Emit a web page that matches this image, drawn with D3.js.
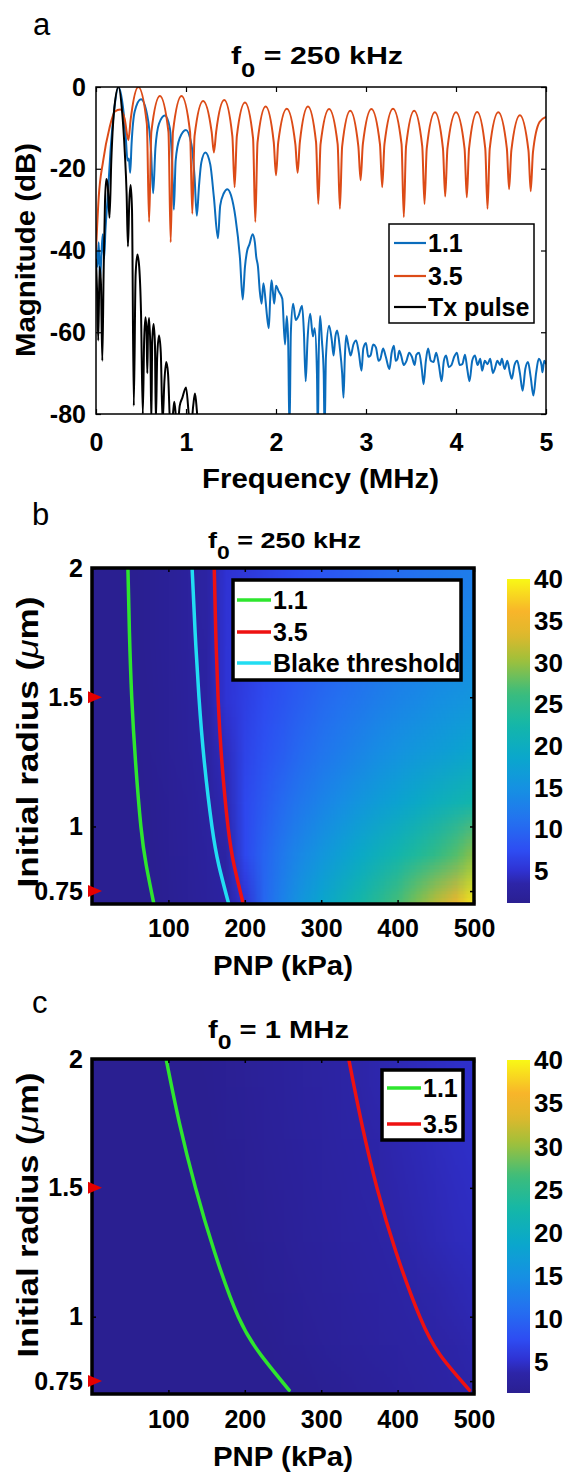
<!DOCTYPE html>
<html><head><meta charset="utf-8">
<script src="https://cdn.jsdelivr.net/npm/d3@7"></script>
<style>body{margin:0;background:#fff}svg{display:block}</style>
</head><body>
<svg id="fig" width="566" height="1473"></svg>
<script>
// ---------------- DATA ----------------
// Panel a: spectra [frequency MHz, magnitude dB]
const freqTicks = [0, 1, 2, 3, 4, 5];
const magTicks = [0, -20, -40, -60, -80];
const spec11 = [[0,-40],[0.015,-44],[0.03,-38],[0.045,-47],[0.06,-41],[0.075,-36],[0.09,-42],[0.105,-35],[0.13,-27],[0.16,-16],[0.2,-6],[0.25,0],[0.3,-5],[0.33,-12],[0.35,-18],[0.365,-17.5],[0.38,-21],[0.395,-14],[0.43,-6],[0.5,-3],[0.57,-7],[0.61,-15],[0.635,-26],[0.66,-15],[0.7,-9],[0.765,-7],[0.82,-10],[0.845,-18],[0.865,-30],[0.885,-18],[0.93,-12.5],[1.0,-10.5],[1.06,-14],[1.095,-22],[1.12,-31.5],[1.145,-24],[1.17,-18.5],[1.215,-16],[1.27,-19],[1.31,-27],[1.355,-37],[1.38,-29],[1.42,-26],[1.46,-25],[1.5,-26.5],[1.55,-32],[1.6,-42],[1.63,-52],[1.655,-44],[1.68,-40],[1.705,-38.5],[1.74,-36],[1.765,-38],[1.78,-41.5],[1.8,-44],[1.82,-50],[1.84,-53],[1.86,-48],[1.885,-52.5],[1.9,-56],[1.92,-59],[1.935,-52],[1.95,-47.3],[1.965,-50],[1.98,-53],[2.0,-48.6],[2.03,-50],[2.07,-51.8],[2.1,-63],[2.12,-56],[2.135,-62],[2.15,-85],[2.165,-60],[2.19,-53],[2.22,-57],[2.25,-56],[2.29,-53.5],[2.31,-60],[2.33,-72],[2.35,-62],[2.38,-55.5],[2.41,-61],[2.43,-59],[2.455,-70],[2.465,-85],[2.475,-65],[2.49,-56],[2.51,-62],[2.53,-70],[2.54,-85],[2.555,-66],[2.59,-58.4],[2.62,-62],[2.64,-65.7],[2.66,-61],[2.68,-59.6],[2.71,-64],[2.735,-70],[2.75,-76],[2.765,-66],[2.78,-60.8],[2.81,-64],[2.83,-65.7],[2.86,-63],[2.89,-62],[2.92,-65],[2.95,-69.4],[2.97,-64],[3.0,-62.6],[3.025,-66],[3.05,-65.7],[3.08,-63],[3.11,-63.7],[3.14,-67],[3.16,-66.5],[3.19,-64],[3.22,-66],[3.26,-69],[3.285,-65],[3.31,-63.3],[3.33,-67],[3.35,-66.5],[3.37,-64.5],[3.39,-65.7],[3.42,-68],[3.45,-67],[3.48,-65],[3.51,-66],[3.54,-68],[3.56,-65.5],[3.59,-65],[3.62,-69],[3.64,-72.7],[3.665,-67],[3.69,-64],[3.72,-67],[3.75,-67.3],[3.78,-65],[3.81,-68],[3.84,-72],[3.865,-67],[3.89,-65.7],[3.92,-68.5],[3.95,-68],[3.98,-66],[4.01,-65],[4.04,-68],[4.07,-67.8],[4.1,-65.5],[4.125,-69],[4.15,-72],[4.18,-67],[4.21,-65.7],[4.24,-68],[4.27,-66.5],[4.29,-69.4],[4.32,-67],[4.35,-67.8],[4.38,-66.5],[4.41,-70],[4.43,-69],[4.46,-67],[4.49,-68],[4.51,-66.5],[4.54,-69],[4.57,-67],[4.6,-70],[4.62,-71.4],[4.65,-68],[4.68,-67],[4.71,-70],[4.74,-74.3],[4.77,-69],[4.8,-67.3],[4.83,-71],[4.86,-75.5],[4.89,-70],[4.92,-66.5],[4.95,-68],[4.96,-69.8],[4.98,-67],[5.0,-67.8]];
const spec35 = [[0,-40],[0.03,-27],[0.08,-18],[0.15,-10],[0.21,-6],[0.27,-5.5],[0.32,-8],[0.36,-13],[0.385,-8],[0.47,0],[0.565,-9],[0.59,-33],[0.615,-11],[0.71,-2.2],[0.805,-11],[0.83,-38],[0.855,-11],[0.95,-2.2],[1.045,-11],[1.07,-31],[1.095,-12],[1.19,-3.4],[1.285,-11],[1.31,-16],[1.335,-11],[1.425,-3.2],[1.515,-12],[1.54,-24.5],[1.565,-12],[1.655,-3.8],[1.745,-12.5],[1.77,-33],[1.795,-13.5],[1.885,-4.8],[1.975,-13.5],[2.0,-21.6],[2.025,-13.5],[2.12,-5.3],[2.215,-14],[2.24,-21],[2.265,-13.5],[2.355,-4.8],[2.445,-13.5],[2.47,-28.6],[2.495,-14],[2.59,-5.4],[2.685,-14],[2.71,-29.8],[2.735,-14.5],[2.825,-5.8],[2.915,-14.5],[2.94,-22.8],[2.965,-14],[3.06,-5.4],[3.155,-14],[3.18,-24.5],[3.205,-14],[3.3,-5.3],[3.395,-14],[3.42,-31.8],[3.445,-14.5],[3.535,-5.8],[3.625,-14.5],[3.65,-28.6],[3.675,-15],[3.765,-6.2],[3.855,-15],[3.88,-26.8],[3.905,-15],[4.0,-6.2],[4.095,-15],[4.12,-27],[4.145,-15],[4.235,-6.1],[4.325,-15],[4.35,-29.8],[4.375,-15],[4.47,-6.2],[4.565,-15],[4.59,-25],[4.615,-15.5],[4.71,-6.9],[4.805,-15.5],[4.83,-25.5],[4.855,-16],[4.93,-8.5],[5.0,-7.3]];
const specTx = [[0,-42],[0.012,-50],[0.025,-62],[0.04,-44],[0.055,-48],[0.07,-67],[0.085,-45],[0.1,-28],[0.115,-22.5],[0.13,-24],[0.15,-32],[0.17,-18],[0.2,-6],[0.25,0],[0.29,-6],[0.32,-16],[0.34,-26],[0.355,-39],[0.37,-28],[0.385,-24],[0.4,-30],[0.42,-78],[0.44,-46],[0.46,-41],[0.48,-44],[0.5,-55],[0.52,-80],[0.535,-62],[0.55,-56.3],[0.562,-60],[0.57,-70],[0.578,-60],[0.59,-56.5],[0.605,-65],[0.615,-82],[0.625,-62],[0.64,-58],[0.655,-63],[0.665,-82],[0.68,-66],[0.7,-60.8],[0.72,-65],[0.74,-82],[0.76,-72],[0.78,-67.3],[0.8,-70],[0.83,-85],[0.855,-80],[0.87,-77],[0.885,-80],[0.9,-85],[0.93,-78],[0.96,-76],[1.0,-73.5],[1.03,-80],[1.05,-85],[1.08,-78],[1.1,-75],[1.12,-79],[1.14,-85]];
const legendA = ["1.1", "3.5", "Tx pulse"];

// Panels b, c: maps of PNP (kPa) x initial radius (um)
const pnpTicks = [100, 200, 300, 400, 500];
const radiusTicks = [0.75, 1, 1.5, 2];
const cbarTicks = [5, 10, 15, 20, 25, 30, 35, 40];
const gridPNP = [0,25,50,75,100,125,150,175,200,225,250,275,300,325,350,375,400,425,450,475,500];
const gridRadius = [2.1, 1.9, 1.7, 1.5, 1.3, 1.1, 0.9, 0.7];
const heatB = [
 [1.0,1.0,1.1,1.4,1.8,2.3,2.9,5.0,5.4,6.0,6.6,7.2,7.8,8.4,9.0,9.5,10.0,10.5,11.0,11.4,11.8],
 [1.0,1.0,1.1,1.4,1.8,2.3,2.9,5.1,5.6,6.4,7.1,7.8,8.5,9.1,9.7,10.3,10.9,11.5,12.0,12.5,13.0],
 [1.0,1.0,1.08,1.4,1.8,2.3,2.85,5.2,5.9,6.8,7.6,8.4,9.2,9.9,10.6,11.3,12.0,12.6,13.2,13.8,14.3],
 [1.0,1.0,1.05,1.35,1.75,2.2,2.8,5.2,6.2,7.2,8.2,9.2,10.1,10.9,11.7,12.5,13.2,13.9,14.6,15.2,15.8],
 [1.0,1.0,1.0,1.3,1.7,2.1,2.7,4.3,6.6,7.9,9.1,10.3,11.4,12.4,13.4,14.3,15.2,16.0,16.8,17.6,18.4],
 [1.0,1.0,1.0,1.2,1.6,2.0,2.5,3.8,7.0,8.8,10.4,11.9,13.2,14.5,15.7,16.9,18.0,19.1,20.2,21.2,22.2],
 [1.0,1.0,1.0,1.15,1.5,1.9,2.4,3.0,7.0,9.8,12.0,14.0,15.8,17.4,19.0,20.5,22.0,23.6,25.3,27.2,29.5],
 [1.0,1.0,1.0,1.08,1.4,1.8,2.2,2.7,5.0,10.0,13.2,16.0,18.5,20.6,22.6,24.6,26.8,29.2,32.0,35.5,39.5]
];
const heatC = [
 [1,1,1,1,1.1,1.35,1.6,1.85,2.1,2.35,2.6,2.85,3.1,3.35,3.65,3.95,4.2,4.45,4.7,4.9,5.1],
 [1,1,1,1,1.05,1.3,1.55,1.8,2.05,2.3,2.55,2.8,3.05,3.3,3.6,3.9,4.15,4.4,4.65,4.85,5.05],
 [1,1,1,1,1.0,1.2,1.45,1.7,1.95,2.2,2.45,2.7,2.95,3.2,3.45,3.75,4.0,4.25,4.5,4.75,4.95],
 [1,1,1,1,1,1.05,1.3,1.55,1.8,2.05,2.3,2.55,2.8,3.05,3.3,3.55,3.85,4.1,4.35,4.6,4.8],
 [1,1,1,1,1,1,1.15,1.4,1.65,1.9,2.15,2.4,2.65,2.9,3.1,3.35,3.6,3.9,4.15,4.4,4.6],
 [1,1,1,1,1,1,1,1.2,1.45,1.7,1.95,2.2,2.4,2.65,2.9,3.1,3.3,3.55,3.8,4.05,4.3],
 [1,1,1,1,1,1,1,1,1.2,1.45,1.7,1.95,2.2,2.4,2.6,2.8,3.0,3.2,3.45,3.7,3.95],
 [1,1,1,1,1,1,1,1,1,1,1.1,1.35,1.6,1.85,2.1,2.35,2.6,2.85,3.1,3.3,3.5]
];
// contour lines [radius um, PNP kPa]
const contourB11 = [[2.0,47],[1.75,49],[1.5,52],[1.25,57],[1.0,64],[0.85,71],[0.7,81]];
const contourB35 = [[2.0,160],[1.75,162],[1.5,165],[1.25,170],[1.0,178],[0.85,186],[0.7,198]];
const blakeB     = [[2.0,131],[1.75,135],[1.5,140],[1.25,147],[1.0,157],[0.85,166],[0.7,179]];
const contourC11 = [[2.0,97],[1.75,114.5],[1.5,135.5],[1.25,160.5],[1.0,191.5],[0.85,221.5],[0.715,258]];
const contourC35 = [[2.0,336],[1.75,353],[1.5,373],[1.25,398],[1.0,429],[0.85,456],[0.715,494]];
const legendB = ["1.1", "3.5", "Blake threshold"];
const legendC = ["1.1", "3.5"];
const markedRadii = [1.5, 0.75];

// ---------------- DRAWING ----------------
const FONT = '"Liberation Sans", Arial, Helvetica, sans-serif';
const svg = d3.select("#fig");
const defs = svg.append("defs");

function clip(id, x0, y0, x1, y1) {
  defs.append("clipPath").attr("id", id).append("rect")
    .attr("x", x0).attr("y", y0).attr("width", x1 - x0).attr("height", y1 - y0);
}

function drawAxes(x, y, xTicks, yTicks, fx, fy, o) {
  const [x0, x1] = x.range(), [y0, y1] = y.range();
  const g = svg.append("g");
  g.append("g").attr("transform", `translate(0,${y0})`)
    .call(d3.axisBottom(x).tickValues(xTicks).tickSize(-o.tick).tickPadding(o.padX).tickFormat(fx));
  g.append("g").attr("transform", `translate(0,${y1})`)
    .call(d3.axisTop(x).tickValues(xTicks).tickSize(-o.tick).tickFormat(""));
  g.append("g").attr("transform", `translate(${x0},0)`)
    .call(d3.axisLeft(y).tickValues(yTicks).tickSize(-o.tick).tickPadding(o.padY).tickFormat(fy));
  g.append("g").attr("transform", `translate(${x1},0)`)
    .call(d3.axisRight(y).tickValues(yTicks).tickSize(-o.tick).tickFormat(""));
  g.selectAll(".domain").remove();
  g.selectAll(".tick line").attr("stroke", "#000").attr("stroke-width", o.tw);
  g.selectAll(".tick text").attr("font-family", FONT).attr("font-size", o.fs)
    .attr("font-weight", "bold").attr("fill", "#000");
  g.append("rect").attr("x", x0).attr("y", y1).attr("width", x1 - x0).attr("height", y0 - y1)
    .attr("fill", "none").attr("stroke", "#000").attr("stroke-width", o.frame);
}

function label(txt, x, y, size, opts = {}) {
  const t = svg.append("text").attr("x", x).attr("y", y).attr("font-family", FONT)
    .attr("font-size", size).attr("font-weight", opts.weight || "bold").attr("fill", "#000")
    .attr("text-anchor", opts.anchor || "middle");
  if (opts.rotate) t.attr("transform", `rotate(-90,${x},${y})`);
  if (opts.len) t.attr("textLength", opts.len).attr("lengthAdjust", "spacingAndGlyphs");
  if (opts.sub) {
    t.append("tspan").text(txt[0]);
    t.append("tspan").text(txt[1]).attr("font-size", size * 0.85).attr("dy", opts.sub);
    t.append("tspan").text(txt[2]).attr("dy", -opts.sub);
  } else if (opts.mu) {
    t.append("tspan").text("Initial radius (");
    t.append("tspan").text("\u03bc").attr("font-style", "italic").attr("font-weight", "normal");
    t.append("tspan").text("m)");
  } else t.text(txt);
  return t;
}

function legend(items, colors, bx0, by0, bx1, by1, rows, lx0, lx1, tx, lw, bw, fs) {
  svg.append("rect").attr("x", bx0).attr("y", by0).attr("width", bx1 - bx0).attr("height", by1 - by0)
    .attr("fill", "#fff").attr("stroke", "#000").attr("stroke-width", bw);
  items.forEach((s, i) => {
    svg.append("line").attr("x1", lx0).attr("x2", lx1).attr("y1", rows[i]).attr("y2", rows[i])
      .attr("stroke", colors[i]).attr("stroke-width", lw);
    svg.append("text").attr("x", tx).attr("y", rows[i]).attr("dy", "0.36em").text(s)
      .attr("font-family", FONT).attr("font-size", fs).attr("font-weight", "bold").attr("fill", "#000");
  });
}

// ---- Panel a ----
const xA = d3.scaleLinear().domain([0, 5]).range([96, 546]);
const yA = d3.scaleLinear().domain([-80, 0]).range([414, 87]);
clip("clipA", 96, 87, 546, 414);
const lineA = d3.line().x(d => xA(d[0])).y(d => yA(d[1])).curve(d3.curveMonotoneX);
const colA = ["#0a6cbc", "#dc4b17", "#000000"];
const gA = svg.append("g").attr("clip-path", "url(#clipA)");
[spec11, spec35, specTx].forEach((s, i) => {
  gA.append("path").attr("d", lineA(s)).attr("fill", "none").attr("stroke", colA[i])
    .attr("stroke-width", 2).attr("stroke-linejoin", "round");
});
drawAxes(xA, yA, freqTicks, magTicks, d => String(d), d => String(d),
  {tick: 5, padX: 19, padY: 10, fs: 25, tw: 1.2, frame: 1.5});
legend(legendA, colA, 389, 224, 534, 323, [243, 276, 307], 394, 426, 428, 2.2, 1.5, 25);
label("a", 33, 35, 31, {anchor: "start", weight: "normal"});
label(["f", "0", " = 250 kHz"], 317, 64, 24, {sub: 13, len: 172});
label("Frequency (MHz)", 320.5, 488, 27, {len: 237});
label("Magnitude (dB)", 35, 250, 27, {rotate: true, len: 214});

// ---- colormap (parula-like, sampled from the reference colour bar) ----
const cmapStops = [0, 0.06, 0.1, 0.16, 0.25, 0.35, 0.45, 0.55, 0.65, 0.75, 0.83, 0.9, 1];
const cmapColors = ["#2a1f91", "#2d25a8", "#2f32d2", "#2e4cf2", "#2470f0", "#1690e3", "#0aa7cc",
  "#14b7a8", "#3cbd7c", "#a0c03a", "#e0b82c", "#f8b52a", "#f9f816"];

function mapPanel(heat, c11, c35, blake, Y0, Y1, cbTop, cbBot, cmin, legendCfg, letter, letterY, title, titleX, titleY, titleFs, titleLen, ylabY, ylabLen, xlabY) {
  const x = d3.scaleLinear().domain([0, 500]).range([92, 474]);
  const y = d3.scaleLinear().domain([0.7, 2]).range([Y1, Y0]);
  const color = d3.scaleLinear().domain(cmapStops.map(t => cmin + t * (40 - cmin)))
    .range(cmapColors).clamp(true);
  const id = "clip" + letter;
  clip(id, 92, Y0, 474, Y1);
  // heat image from grid (browser bilinear smoothing)
  const nx = gridPNP.length, ny = gridRadius.length;
  const small = document.createElement("canvas"); small.width = nx; small.height = ny;
  const sctx = small.getContext("2d"); const img = sctx.createImageData(nx, ny);
  heat.forEach((row, j) => row.forEach((v, i) => {
    const c = d3.rgb(color(v)); const k = 4 * (j * nx + i);
    img.data[k] = c.r; img.data[k + 1] = c.g; img.data[k + 2] = c.b; img.data[k + 3] = 255;
  }));
  sctx.putImageData(img, 0, 0);
  const dp = gridPNP[1] - gridPNP[0], dr = gridRadius[0] - gridRadius[1];
  const px0 = x(gridPNP[0] - dp / 2), px1 = x(gridPNP[nx - 1] + dp / 2);
  const py0 = y(gridRadius[0] + dr / 2), py1 = y(gridRadius[ny - 1] - dr / 2);
  const W = Math.round(px1 - px0), H = Math.round(py1 - py0);
  const big = document.createElement("canvas"); big.width = W; big.height = H;
  const bctx = big.getContext("2d"); bctx.imageSmoothingEnabled = true; bctx.imageSmoothingQuality = "low";
  bctx.drawImage(small, 0, 0, W, H);
  svg.append("image").attr("href", big.toDataURL()).attr("x", px0).attr("y", py0)
    .attr("width", W).attr("height", H).attr("preserveAspectRatio", "none")
    .attr("clip-path", `url(#${id})`);
  // contours
  const cl = d3.line().x(d => x(d[1])).y(d => y(d[0])).curve(d3.curveNatural);
  const g = svg.append("g").attr("clip-path", `url(#${id})`);
  const lines = [[c11, "#2ee62e"], [c35, "#ee1111"]];
  if (blake) lines.push([blake, "#22ddf2"]);
  lines.forEach(([d, c]) => g.append("path").attr("d", cl(d)).attr("fill", "none")
    .attr("stroke", c).attr("stroke-width", 3.5).attr("stroke-linecap", "round"));
  drawAxes(x, y, pnpTicks, radiusTicks, d => String(d), d => String(d),
    {tick: 4, padX: legendCfg.padX, padY: 9, fs: 25, tw: 1.5, frame: 3.5});
  // marker triangles
  markedRadii.forEach(r => {
    const yy = y(r);
    svg.append("path").attr("d", `M88,${yy - 6}L102,${yy}L88,${yy + 6}Z`).attr("fill", "#e60000");
  });
  legendCfg.draw();
  // colorbar
  const cb = d3.scaleLinear().domain([cmin, 40]).range([cbBot, cbTop]);
  const gid = "grad" + letter;
  const grad = defs.append("linearGradient").attr("id", gid).attr("x1", 0).attr("y1", 1).attr("x2", 0).attr("y2", 0);
  d3.range(0, 1.0001, 0.02).forEach(t => grad.append("stop").attr("offset", t).attr("stop-color", color(cmin + t * (40 - cmin))));
  svg.append("rect").attr("x", 507).attr("y", cbTop).attr("width", 23).attr("height", cbBot - cbTop)
    .attr("fill", `url(#${gid})`);
  cbarTicks.forEach(v => svg.append("text").attr("x", 534).attr("y", cb(v)).attr("dy", "0.36em").text(v)
    .attr("font-family", FONT).attr("font-size", 26).attr("font-weight", "bold").attr("fill", "#000"));
  // texts
  label(letter, 32, letterY, 31, {anchor: "start", weight: "normal"});
  label(title, titleX, titleY, titleFs, {sub: 11, len: titleLen});
  label("PNP (kPa)", 283, xlabY, 28, {len: 140});
  label("", 38, ylabY, 29, {rotate: true, mu: true, len: ylabLen});
}

mapPanel(heatB, contourB11, contourB35, blakeB, 568, 904, 579, 903, 1.1,
  {padX: 15, draw: () => legend(legendB, ["#2ee62e", "#ee1111", "#22ddf2"], 233, 580, 461, 680, [600, 632, 663], 237, 271, 273, 3.5, 3.5, 25)},
  "b", 525, ["f", "0", " = 250 kHz"], 284.5, 548, 22, 153, 742, 291, 975);
mapPanel(heatC, contourC11, contourC35, null, 1059, 1394, 1060, 1393, 1.4,
  {padX: 16, draw: () => legend(legendC, ["#2ee62e", "#ee1111"], 382, 1070, 463, 1140, [1088, 1124], 387, 421, 423, 3.5, 3.5, 25)},
  "c", 1013, ["f", "0", " = 1 MHz"], 278.5, 1038, 23, 141, 1215, 285, 1466);
</script>
</body></html>
